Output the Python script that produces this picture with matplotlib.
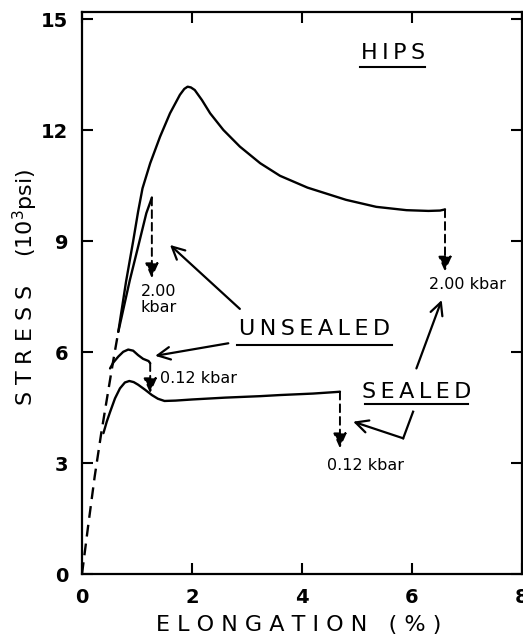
import numpy as np
import matplotlib
matplotlib.use("Agg")
from matplotlib import pyplot as plt

# initial dashed elastic part (shared by all curves)
elastic_x = [0.0, 0.11, 0.23, 0.35, 0.47, 0.56, 0.66]
elastic_y = [0.0, 1.28, 2.63, 3.81, 4.89, 5.70, 6.55]

# sealed, 2.00 kbar
sealed_hi_x = [0.66, 0.80, 0.93, 1.02, 1.10, 1.24, 1.42, 1.60, 1.78, 1.86, 1.92, 1.98, 2.05, 2.18,
               2.33, 2.57, 2.87, 3.24, 3.60, 4.10, 4.80, 5.35, 5.90, 6.30, 6.51, 6.60]
sealed_hi_y = [6.55, 7.90, 9.00, 9.80, 10.43, 11.11, 11.83, 12.46, 12.96, 13.12, 13.18, 13.16, 13.09, 12.82,
               12.46, 12.01, 11.56, 11.11, 10.77, 10.45, 10.12, 9.93, 9.84, 9.82, 9.83, 9.86]

# unsealed, 2.00 kbar
unsealed_hi_x = [0.66, 0.87, 1.02, 1.17, 1.24, 1.27]
unsealed_hi_y = [6.55, 7.95, 8.85, 9.76, 10.05, 10.18]

# unsealed, 0.12 kbar
unsealed_lo_x = [0.51, 0.57, 0.66, 0.75, 0.84, 0.93, 1.02, 1.11, 1.21, 1.24]
unsealed_lo_y = [5.56, 5.72, 5.88, 6.01, 6.07, 6.04, 5.92, 5.82, 5.76, 5.70]

# sealed, 0.12 kbar
sealed_lo_x = [0.39, 0.45, 0.51, 0.60, 0.69, 0.78, 0.86, 0.94, 1.02, 1.15, 1.27, 1.38, 1.50,
               1.70, 2.0, 2.6, 3.24, 3.6, 4.2, 4.6, 4.69]
sealed_lo_y = [3.81, 4.12, 4.38, 4.75, 5.02, 5.18, 5.22, 5.19, 5.12, 4.98, 4.84, 4.74, 4.68,
               4.69, 4.72, 4.77, 4.81, 4.84, 4.88, 4.92, 4.93]

# drops after failure (x, from, to)
drops = [(1.27, 10.18, 8.0), (6.60, 9.86, 8.18), (1.24, 5.70, 4.89), (4.69, 4.93, 3.40)]

x_ticks = [0, 2, 4, 6, 8]
y_ticks = [0, 3, 6, 9, 12, 15]

fig = plt.figure(figsize=(5.23, 6.39), dpi=100)
ax = fig.add_axes([82 / 523, 65 / 639, 440 / 523, 562 / 639])

lw = 1.7
ax.plot(elastic_x, elastic_y, color="black", lw=lw, ls=(0, (5, 3)))
for cx, cy in [(sealed_hi_x, sealed_hi_y), (unsealed_hi_x, unsealed_hi_y),
               (unsealed_lo_x, unsealed_lo_y), (sealed_lo_x, sealed_lo_y)]:
    ax.plot(cx, cy, color="black", lw=lw, solid_capstyle="round", solid_joinstyle="round")

for dx, y0, y1 in drops:
    ax.annotate("", xy=(dx, y1), xytext=(dx, y0),
                arrowprops=dict(arrowstyle="-|>,head_length=0.9,head_width=0.4",
                                color="black", lw=1.4, ls=(0, (4, 2.5)),
                                shrinkA=0, shrinkB=0))

kb = dict(fontsize=11.5, color="black")
ax.text(1.40, 7.42, "2.00\nkbar", ha="center", va="center", linespacing=1.05, **kb)
ax.text(1.42, 5.29, "0.12 kbar", ha="left", va="center", **kb)
ax.text(7.00, 7.82, "2.00 kbar", ha="center", va="center", **kb)
ax.text(5.15, 2.93, "0.12 kbar", ha="center", va="center", **kb)

ts = "\u2009"
big = dict(fontsize=16, color="black", ha="center", va="center")
ax.text(5.65, 14.09, ts.join("HIPS"), **big)
ax.plot([5.05, 6.24], [13.72, 13.72], color="black", lw=1.5)
ax.text(4.22, 6.62, ts.join("UNSEALED"), **big)
ax.plot([2.81, 5.63], [6.19, 6.19], color="black", lw=1.5)
ax.text(6.08, 4.92, ts.join("SEALED"), **big)
ax.plot([5.15, 7.02], [4.60, 4.60], color="black", lw=1.5)

open_head = dict(arrowstyle="->,head_length=0.9,head_width=0.45", color="black", lw=1.6,
                 shrinkA=0, shrinkB=0)
ax.annotate("", xy=(1.60, 8.90), xytext=(2.87, 7.17), arrowprops=open_head)
ax.annotate("", xy=(1.33, 5.90), xytext=(2.66, 6.24), arrowprops=open_head)
ax.annotate("", xy=(6.54, 7.41), xytext=(6.08, 5.56), arrowprops=open_head)
ax.plot([6.02, 5.84], [4.39, 3.67], color="black", lw=1.6)
ax.annotate("", xy=(4.93, 4.12), xytext=(5.84, 3.67), arrowprops=open_head)

ax.set_xlim(0, 8)
ax.set_ylim(0, 15.2)
ax.set_xticks(x_ticks)
ax.set_yticks(y_ticks)
ax.tick_params(direction="in", length=8, width=1.5, top=True, right=True,
               labelsize=14, pad=10)
for lab in ax.get_xticklabels() + ax.get_yticklabels():
    lab.set_fontweight("bold")
for sp in ax.spines.values():
    sp.set_linewidth(1.6)

fig.text(25 / 523, 1 - 287 / 639, "S T R E S S    (10$^3$psi)", rotation=90,
         ha="center", va="center", fontsize=16)
fig.text(299 / 523, 1 - 625 / 639, "E L O N G A T I O N   ( % )",
         ha="center", va="center", fontsize=16)

fig.savefig("out.png", dpi=100)
